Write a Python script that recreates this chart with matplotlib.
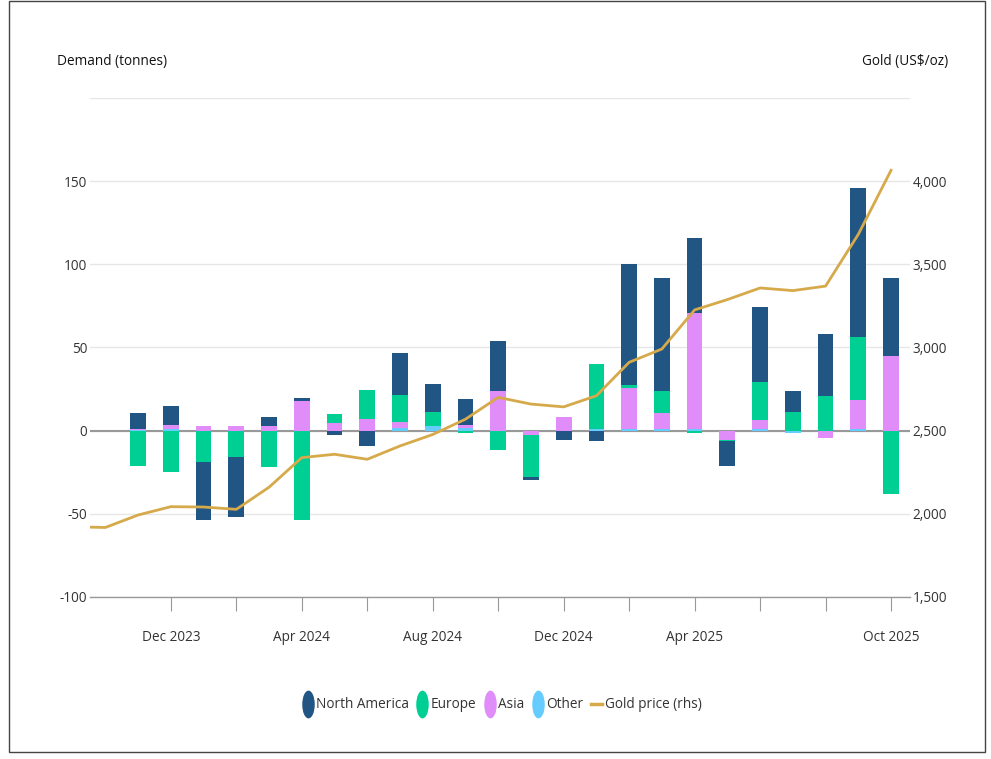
import numpy as np
import pandas as pd
import matplotlib
matplotlib.use('Agg')
import matplotlib.pyplot as plt
from matplotlib import font_manager
from matplotlib.path import Path
from matplotlib.transforms import Affine2D
from matplotlib.lines import Line2D
from matplotlib.patches import Rectangle

# narrow face if the system has it, otherwise Open Sans a bit smaller
names = {f.name for f in font_manager.fontManager.ttflist}
if 'Liberation Sans Narrow' in names:
    plt.rcParams['font.family'] = 'Liberation Sans Narrow'
    fs = 12.5
else:
    plt.rcParams['font.family'] = 'Open Sans'
    fs = 9.8

# monthly flows, tonnes (Nov 2023 - Oct 2025)
months = pd.date_range('2023-11-01', '2025-10-01', freq='MS')
north_america = [10, 11, -35, -36, 5.7, 1.6, -2.6, -9, 25, 17, 15.5, 30,
                 -1.4, -5.6, -6.4, 72.4, 68, 45, -14.9, 44.9, 12.7, 37.2, 89.3, 47]
europe = [-21, -25, -19, -16, -22, -53, 5.8, 17.7, 16.3, 8, -1.6, -11.5,
          -25.7, 0, 39.2, 2.2, 13.1, -1.5, -1, 23.1, 11, 20.7, 37.6, -38]
asia = [0.5, 2.6, 3, 3, 2.6, 18, 4.5, 7, 4, 0, 2, 23.7,
        -2.4, 8.3, 0, 24.1, 9.5, 69.6, -5.4, 5.4, 0, -4.6, 17.7, 44.8]
other = [0.3, 1, 0, 0, 0, -0.5, 0, 0, 1.4, 3, 1.6, 0,
         0, 0, 1, 1.3, 1, 1, 0, 1, -1.5, 0, 1, 0]

# monthly average gold price, US$/oz (Sep 2023 - Oct 2025)
price_months = pd.date_range('2023-09-01', '2025-10-01', freq='MS')
gold_price = [1922, 1918, 1993, 2043, 2041, 2027, 2160, 2338, 2358, 2328, 2408, 2477,
              2569, 2700, 2660, 2643, 2710, 2911, 2991, 3226, 3288, 3358, 3342, 3369,
              3680, 4065]

shown_labels = ['Dec 2023', 'Apr 2024', 'Aug 2024', 'Dec 2024', 'Apr 2025', 'Oct 2025']

C_NA = '#215584'
C_EU = '#00cf94'
C_AS = '#e08dfa'
C_OT = '#66ccff'
C_GOLD = '#d6a94a'
TXT = '#333333'

fig = plt.figure(figsize=(9.91, 7.59), dpi=100)
ax = fig.add_axes([90 / 991, 1 - 597 / 759, 820 / 991, 499 / 759])

x = np.arange(len(months))
xp = np.arange(len(price_months)) - 2

# stack from the zero line outwards, positives and negatives separately
series = [('Other', other, C_OT), ('Asia', asia, C_AS),
          ('Europe', europe, C_EU), ('North America', north_america, C_NA)]
pos = np.zeros(len(x))
neg = np.zeros(len(x))
for name, vals, col in series:
    v = np.array(vals, dtype=float)
    base = np.where(v >= 0, pos, neg)
    ax.bar(x, v, width=0.48, bottom=base, color=col, linewidth=0, zorder=3)
    pos += np.clip(v, 0, None)
    neg += np.clip(v, None, 0)

ax.set_xlim(-1.47, 23.58)
ax.set_ylim(-100, 200)
yt = [-100, -50, 0, 50, 100, 150, 200]
ax.set_yticks(yt, [f'{t:g}' if t < 200 else '' for t in yt])
ax.yaxis.grid(True, color='#e6e6e6', linewidth=1, zorder=0)
ax.set_axisbelow(True)
ax.axhline(0, color='#999999', linewidth=1.5, zorder=2)

lab = [m.strftime('%b %Y') for m in months]
ax.set_xticks(x[1::2], [l if l in shown_labels else '' for l in lab[1::2]])
ax.tick_params(axis='x', length=10, color='#999999', pad=14, labelsize=fs, labelcolor=TXT)
ax.tick_params(axis='y', length=0, pad=2, labelsize=fs, labelcolor=TXT)
for s in ['top', 'right', 'left']:
    ax.spines[s].set_visible(False)
ax.spines['bottom'].set_color('#999999')
ax.spines['bottom'].set_linewidth(1)

ax2 = ax.twinx()
ax2.plot(xp, gold_price, color=C_GOLD, linewidth=2, zorder=4, solid_joinstyle='round')
ax2.set_ylim(1500, 4500)
rt = [1500, 2000, 2500, 3000, 3500, 4000]
ax2.set_yticks(rt, [f'{t:,}' for t in rt])
ax2.tick_params(axis='y', length=0, pad=2, labelsize=fs, labelcolor=TXT)
for s in ax2.spines.values():
    s.set_visible(False)

fig.text(57 / 991, 1 - 61 / 759, 'Demand (tonnes)', ha='left', va='center', fontsize=fs, color='#111111')
fig.text(948 / 991, 1 - 61 / 759, r'Gold (US\$/oz)', ha='right', va='center', fontsize=fs, color='#111111')

# tall oval legend markers
oval = Path.unit_circle().transformed(Affine2D().scale(0.45, 1.0))
handles = [Line2D([], [], linestyle='none', marker=oval, markersize=20, color=c, markeredgewidth=0)
           for c in [C_NA, C_EU, C_AS, C_OT]]
handles.append(Line2D([], [], color=C_GOLD, linewidth=2.5))
labels = ['North America', 'Europe', 'Asia', 'Other', 'Gold price (rhs)']
fig.legend(handles, labels, loc='center', bbox_to_anchor=(502 / 991, 1 - 705 / 759), ncol=5,
           frameon=False, fontsize=fs, handlelength=0.8, handletextpad=0.2, columnspacing=0.6,
           labelcolor=TXT)

fig.patches.append(Rectangle((9 / 991, 7 / 759), 976 / 991, 751 / 759, transform=fig.transFigure,
                             fill=False, edgecolor='#444444', linewidth=1))

fig.savefig('out.png', dpi=100)
